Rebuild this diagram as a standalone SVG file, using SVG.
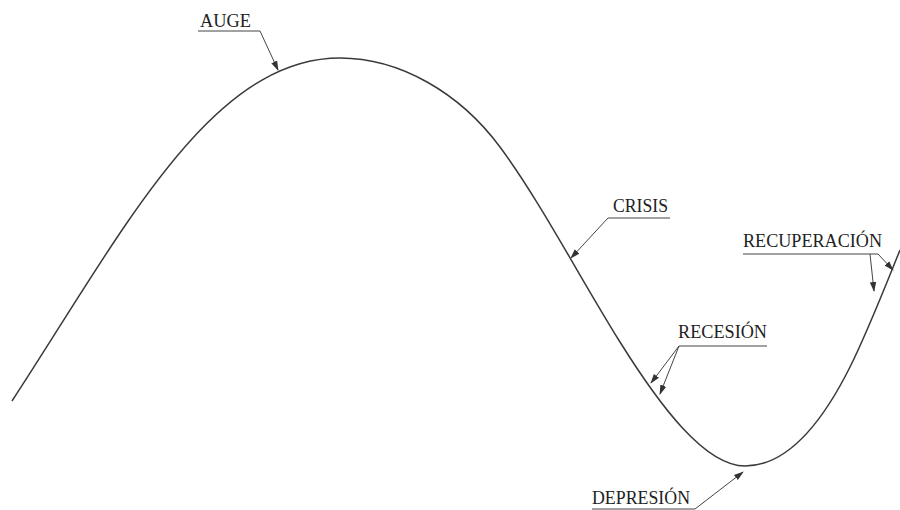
<svg xmlns="http://www.w3.org/2000/svg" width="900" height="510" viewBox="0 0 900 510">
<style>
.curve{fill:none;stroke:#3a3a3a;stroke-width:1.5}
.lead{fill:none;stroke:#444;stroke-width:1}
.lbl{font-family:"Liberation Serif",serif;font-size:19px;fill:#222}
</style>
<defs>
<marker id="ah" viewBox="0 0 10 10" refX="9" refY="5" markerWidth="10" markerHeight="10" orient="auto" markerUnits="userSpaceOnUse">
<path d="M0,1.8 L10,5 L0,8.2 Z" fill="#333"/>
</marker>
</defs>
<rect width="900" height="510" fill="#fff"/>
<g id="curve">
<path class="curve" d="M12,401 C122,233 210,58 340,58 C400,58 460,93 500,147 C540,201 580,278 620,342 C660,406 705,466 745,466 C785,466 820,427 850,367 C867,333 883,292 900,250"/>
</g>
<g id="connectors">
<polyline class="lead" points="198,31 260,31 278,70" marker-end="url(#ah)"/>
<polyline class="lead" points="670,218 608,218 571,258" marker-end="url(#ah)"/>
<polyline class="lead" points="767,346 679,346 651,383" marker-end="url(#ah)"/>
<line class="lead" x1="679" y1="346" x2="660" y2="394" marker-end="url(#ah)"/>
<polyline class="lead" points="592,509 695,509 743,472" marker-end="url(#ah)"/>
<polyline class="lead" points="743,254 878,254 893,270" marker-end="url(#ah)"/>
<line class="lead" x1="870" y1="254" x2="874" y2="291" marker-end="url(#ah)"/>
</g>
<g id="auge"><text class="lbl" x="200" y="26.5" textLength="51" lengthAdjust="spacingAndGlyphs">AUGE</text></g>
<g id="crisis"><text class="lbl" x="613" y="211.5" textLength="55" lengthAdjust="spacingAndGlyphs">CRISIS</text></g>
<g id="recesion"><text class="lbl" x="678" y="338" textLength="89" lengthAdjust="spacingAndGlyphs">RECESIÓN</text></g>
<g id="depresion"><text class="lbl" x="592" y="504" textLength="98" lengthAdjust="spacingAndGlyphs">DEPRESIÓN</text></g>
<g id="recuperacion"><text class="lbl" x="743" y="247" textLength="139" lengthAdjust="spacingAndGlyphs">RECUPERACIÓN</text></g>
</svg>
